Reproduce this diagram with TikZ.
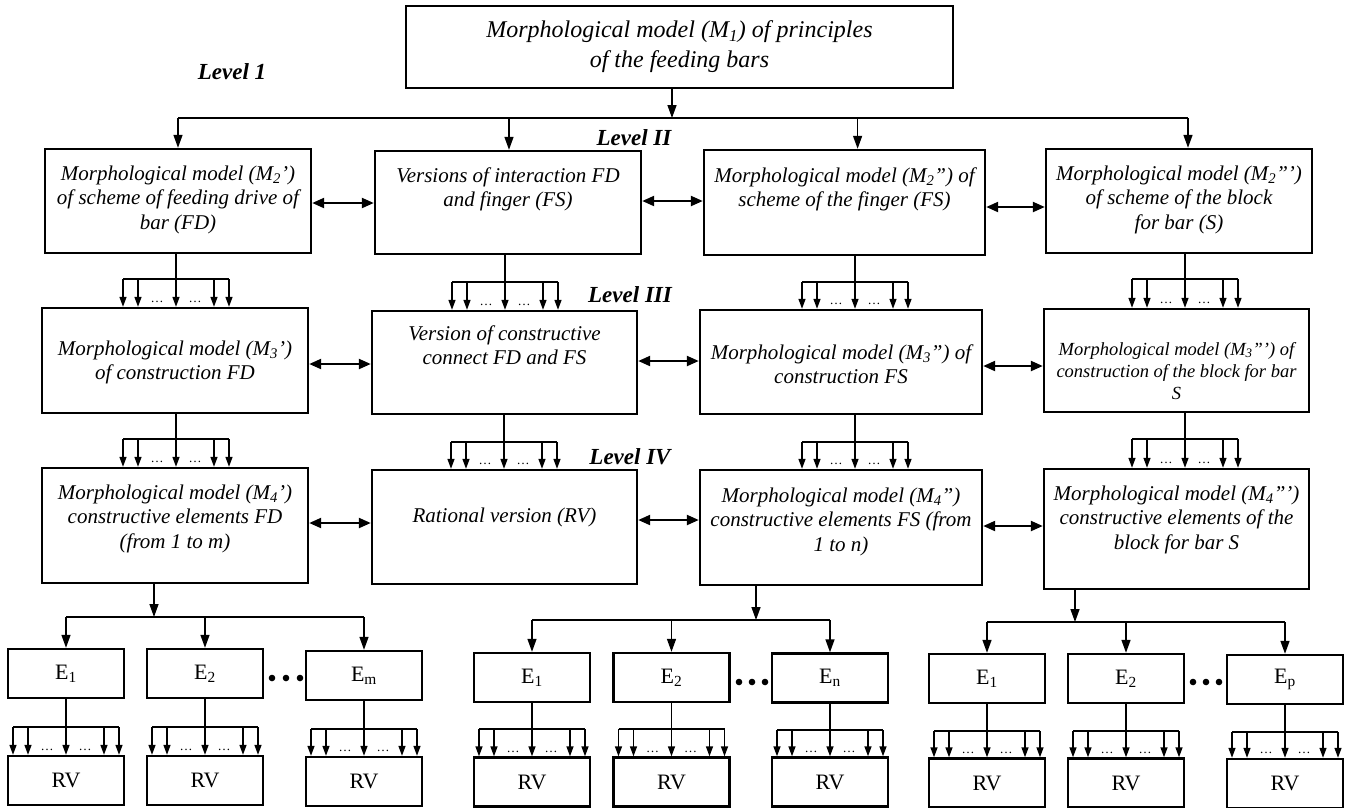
\documentclass[tikz,border=0pt]{standalone}
\usepackage{fontspec}
\setmainfont{Liberation Serif}
\usetikzlibrary{arrows.meta,calc}
\newcommand\bx[4]{\begin{minipage}[c][#2pt][t]{#1pt}\centering\rule{0pt}{#3pt}#4\end{minipage}}
\tikzset{
 box/.style={draw, line width=2.4pt, inner sep=0pt},
 txt/.style={font=\fontsize{21}{24.5}\selectfont\itshape},
 ln/.style={line width=1.4pt},
 arr/.style={line width=1.4pt, -{Triangle[length=13pt,width=9pt]}},
 farr/.style={line width=1.4pt, -{Triangle[length=10pt,width=7pt]}},
 biarr/.style={line width=2.2pt, {Triangle[length=12pt,width=10pt]}-{Triangle[length=12pt,width=10pt]}},
 lvl/.style={font=\fontsize{23}{26}\selectfont\bfseries\itshape},
 ebox/.style={box, minimum width=116pt, minimum height=49pt, font=\fontsize{22}{24}\selectfont},
 dotsn/.style={font=\fontsize{13}{14}\selectfont, inner sep=0pt, anchor=base},
}
\newcommand\fan[4]{%
  \draw[ln] (#1.south -| #3,0) -- (#3,#4);
  \pgfmathsetmacro\fl{#3-53}\pgfmathsetmacro\fr{#3+53}%
  \draw[ln] (\fl,#4) -- (\fr,#4);
  \foreach \dx in {-53,-38,0,38,53}{%
    \pgfmathsetmacro\fx{#3+\dx}%
    \draw[farr] (\fx,#4) -- (#2.north -| \fx,0);
  }
  \pgfmathsetmacro\da{#3-19}\pgfmathsetmacro\db{#3+19}%
  \node[dotsn] (#2da) at ($(#2.north -| \da,0)+(0,-4)$) {…};
  \node[dotsn] (#2db) at ($(#2.north -| \db,0)+(0,-4)$) {…};
}
\begin{document}
\begin{tikzpicture}[x=1pt,y=-1pt]
\useasboundingbox (0,0) rectangle (1350,807);

% top
\node[box, font=\fontsize{24}{30}\selectfont\itshape, minimum width=547pt, minimum height=82pt, align=center] (T) at (679.5,47)
 {Morphological model (M\textsubscript{1}) of principles\\ of the feeding bars};
\node[lvl] (L1) at (232,72) {Level 1};
\node[lvl] (L2) at (634,138) {Level II};
\node[lvl] (L3) at (630,295) {Level III};
\node[lvl] (L4) at (630,457) {Level IV};

% level II
\node[box,txt] (A2) at (178,201) {\bx{266}{104}{31}{Morphological model (M\textsubscript{2}')\\ of scheme of feeding drive of\\ bar (FD)}};
\node[box,txt] (B2) at (508,202.5) {\bx{266}{103}{31}{Versions of interaction FD\\ and finger (FS)}};
\node[box,txt] (C2) at (844.5,202.5) {\bx{281}{105}{32}{Morphological model (M\textsubscript{2}'') of\\ scheme of the finger (FS)}};
\node[box,txt] (D2) at (1179,201) {\bx{266}{104}{31}{Morphological model (M\textsubscript{2}''')\\ of scheme of the block\\ for bar (S)}};

% level III
\node[box,txt] (A3) at (175,360.5) {\bx{266}{105}{47}{Morphological model (M\textsubscript{3}')\\ of construction FD}};
\node[box,txt] (B3) at (504.5,362.5) {\bx{265}{103}{29}{Version of constructive\\ connect FD and FS}};
\node[box,txt] (C3) at (841,362) {\bx{282}{104}{49}{Morphological model (M\textsubscript{3}'') of\\ construction FS}};
\node[box,font=\fontsize{18.5}{22}\selectfont\itshape] (D3) at (1176.5,360.5) {\bx{265}{103}{46}{Morphological model (M\textsubscript{3}''') of\\ construction of the block for bar\\ S}};

% level IV
\node[box,txt] (A4) at (175,525.5) {\bx{266}{115}{31}{Morphological model (M\textsubscript{4}')\\ constructive elements FD\\ (from 1 to m)}};
\node[box,txt] (B4) at (504.5,527) {\bx{265}{114}{52}{Rational version (RV)}};
\node[box,txt] (C4) at (841,527.5) {\bx{282}{115}{32}{Morphological model (M\textsubscript{4}'')\\ constructive elements FS (from\\ 1 to n)}};
\node[box,txt] (D4) at (1176.5,529) {\bx{265}{120}{31}{Morphological model (M\textsubscript{4}''')\\ constructive elements of the\\ block for bar S}};

% E boxes
\node[ebox] (E11) at (66,673.5) {E\textsubscript{1}};
\node[ebox] (E12) at (205,673.5) {E\textsubscript{2}};
\node[ebox] (E13) at (364,675.5) {E\textsubscript{m}};
\node[ebox] (E21) at (532,677.5) {E\textsubscript{1}};
\node[ebox] (E22) at (671.5,677.5) {E\textsubscript{2}};
\node[ebox] (E23) at (830,678) {E\textsubscript{n}};
\node[ebox] (E31) at (987,678.5) {E\textsubscript{1}};
\node[ebox] (E32) at (1126,678.5) {E\textsubscript{2}};
\node[ebox] (E33) at (1285,679.5) {E\textsubscript{p}};

% RV boxes
\node[ebox] (R11) at (66,780.5) {RV};
\node[ebox] (R12) at (205,780.5) {RV};
\node[ebox] (R13) at (364,781.5) {RV};
\node[ebox] (R21) at (532,782) {RV};
\node[ebox] (R22) at (671.5,782) {RV};
\node[ebox] (R23) at (830,782) {RV};
\node[ebox] (R31) at (987,783) {RV};
\node[ebox] (R32) at (1126,783) {RV};
\node[ebox] (R33) at (1285,783.5) {RV};

% top connectors
\coordinate (jT) at (672,118);
\draw[arr] (T.south -| jT) -- (jT);
\draw[ln] (178,118) -- (1188,118);
\draw[arr] (178,118) -- (A2.north -| 178,0);
\draw[arr] (509,118) -- (B2.north -| 509,0);
\draw[arr] (857.6,118) -- (C2.north -| 857.6,0);
\draw[arr] (1188,118) -- (D2.north -| 1188,0);

% bidirectional
\draw[biarr] (A2.east |- 0,203) -- (B2.west |- 0,203);
\draw[biarr] (B2.east |- 0,201) -- (C2.west |- 0,201);
\draw[biarr] (C2.east |- 0,207) -- (D2.west |- 0,207);
\draw[biarr] (A3.east |- 0,364) -- (B3.west |- 0,364);
\draw[biarr] (B3.east |- 0,361) -- (C3.west |- 0,361);
\draw[biarr] (C3.east |- 0,366) -- (D3.west |- 0,366);
\draw[biarr] (A4.east |- 0,523) -- (B4.west |- 0,523);
\draw[biarr] (B4.east |- 0,520) -- (C4.west |- 0,520);
\draw[biarr] (C4.east |- 0,526) -- (D4.west |- 0,526);

% fans
\fan{A2}{A3}{176}{279}
\fan{B2}{B3}{505}{282}
\fan{C2}{C3}{855}{282}
\fan{D2}{D3}{1185}{279}
\fan{A3}{A4}{176}{439}
\fan{B3}{B4}{504}{442}
\fan{C3}{C4}{855}{442}
\fan{D3}{D4}{1185}{439}

% level IV to E rows
\draw[arr] (A4.south -| 154,0) -- (154,617);
\draw[ln] (66,617) -- (364,617);
\draw[arr] (66,617) -- (E11.north);
\draw[arr] (205,617) -- (E12.north);
\draw[arr] (364,617) -- (E13.north);
\draw[arr] (C4.south -| 756,0) -- (756,620);
\draw[ln] (532,620) -- (830,620);
\draw[arr] (532,620) -- (E21.north);
\draw[arr] (671.5,620) -- (E22.north);
\draw[arr] (830,620) -- (E23.north);
\draw[arr] (D4.south -| 1075,0) -- (1075,622);
\draw[ln] (987,622) -- (1285,622);
\draw[arr] (987,622) -- (E31.north);
\draw[arr] (1126,622) -- (E32.north);
\draw[arr] (1285,622) -- (E33.north);

% E to RV fans
\fan{E11}{R11}{66}{727}
\fan{E12}{R12}{205}{727}
\fan{E13}{R13}{364}{729}
\fan{E21}{R21}{532}{729}
\fan{E22}{R22}{671.5}{729}
\fan{E23}{R23}{830}{730}
\fan{E31}{R31}{987}{731}
\fan{E32}{R32}{1126}{731}
\fan{E33}{R33}{1285}{732}

% bullets
\foreach \bxp/\byp in {272/678,286/678,300/678,739/682,752/682,765/682,1193/682,1206/682,1219/682}
  \fill (\bxp,\byp) circle (3.3pt);
\end{tikzpicture}
\end{document}
